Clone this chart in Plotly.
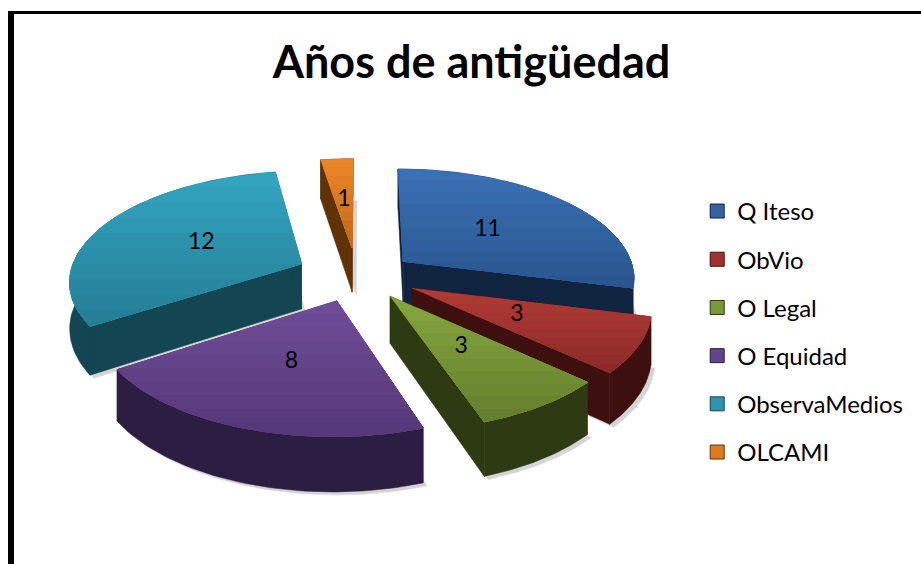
import numpy as np
import plotly.graph_objects as go

# ---- data ----
categories = ["Q Iteso", "ObVio", "O Legal", "O Equidad", "ObservaMedios", "OLCAMI"]
values = [11, 3, 3, 8, 12, 1]
title_text = "Años de antigüedad"

# ---- styling ----
top_light = ["#3A70B4", "#B03A36", "#84A63E", "#6F4C96", "#33A3BE", "#EC8526"]
top_dark = ["#2A5690", "#8C2A28", "#667F2E", "#55397A", "#257F98", "#C26B1C"]
wall = ["#10233F", "#3E0F0F", "#2E3A12", "#2C1D42", "#134553", "#5F3208"]
swatch = ["#34639F", "#A23230", "#789A38", "#61448A", "#2E93AD", "#DD7B22"]
pulls = [52, 54, 50, 54, 66, 62]          # explosion of each slice
nudge_x = [3, 4, 2, -5, 1, -3]            # small sideways shift of each slice
label_frac = [0.50, 0.48, 0.50, 0.52, 0.50, 0.50]
draw_order = [5, 0, 4, 1, 2, 3]

CX, CY, R, SQUASH, PERSP, DEPTH = 360, 276, 232, 0.47, 0.14, 46
total = sum(values)
fracs = np.array(values) / total
starts = np.concatenate([[0], np.cumsum(fracs)[:-1]]) * 2 * np.pi
ends = np.cumsum(fracs) * 2 * np.pi
mids = (starts + ends) / 2


def project(X, Y, Z=0.0):
    s = 1 / (1 + PERSP * np.asarray(Y) / R)
    return CX + np.asarray(X) * s, CY - SQUASH * np.asarray(Y) * s + Z * s


def slice_world(i):
    return nudge_x[i] + pulls[i] * np.sin(mids[i]), pulls[i] * np.cos(mids[i])


def arc(i, rad=R, n=60):
    t = np.linspace(starts[i], ends[i], n)
    ox, oy = slice_world(i)
    return ox + rad * np.sin(t), oy + rad * np.cos(t)


def hex_mix(a, b, f):
    ca = [int(a[k:k + 2], 16) for k in (1, 3, 5)]
    cb = [int(b[k:k + 2], 16) for k in (1, 3, 5)]
    return "rgb(%d,%d,%d)" % tuple(round(x + (y - x) * f) for x, y in zip(ca, cb))


def clip_below(px, py, y0):
    """Part of a polygon with screen y >= y0."""
    ox, oy = [], []
    n = len(px)
    for k in range(n):
        x1, y1, x2, y2 = px[k], py[k], px[(k + 1) % n], py[(k + 1) % n]
        if y1 >= y0:
            ox.append(x1); oy.append(y1)
        if (y1 >= y0) != (y2 >= y0):
            f = (y0 - y1) / (y2 - y1)
            ox.append(x1 + f * (x2 - x1)); oy.append(y0)
    return ox, oy


fig = go.Figure()


def poly(x, y, color, opacity=1.0):
    x, y = list(x), list(y)
    fig.add_trace(go.Scatter(x=x + x[:1], y=y + y[:1], mode="lines", fill="toself",
                             fillcolor=color, line=dict(color=color, width=0.5),
                             opacity=opacity, hoverinfo="skip", showlegend=False))


# soft shadows
for i in draw_order:
    ax, ay = arc(i)
    ox, oy = slice_world(i)
    wx = np.concatenate([[ox], ax])
    wy = np.concatenate([[oy], ay])
    sx, sy = project(wx, wy, DEPTH)
    poly(sx + 4, sy + 3, "#8a8a8a", 0.35)

# slices, back to front
for i in draw_order:
    ax, ay = arc(i)
    ox, oy = slice_world(i)
    # cut faces
    for wxe, wye in ((ax[0], ay[0]), (ax[-1], ay[-1])):
        x0, y0 = project(ox, oy)
        x1, y1 = project(wxe, wye)
        x2, y2 = project(wxe, wye, DEPTH)
        x3, y3 = project(ox, oy, DEPTH)
        poly([x0, x1, x2, x3], [y0, y1, y2, y3], wall[i])
    # outer wall
    tx, ty = project(ax, ay)
    bx, by = project(ax, ay, DEPTH)
    poly(np.concatenate([tx, bx[::-1]]), np.concatenate([ty, by[::-1]]), wall[i])
    # top face with vertical gradient
    x0, y0 = project(ox, oy)
    px = list(np.concatenate([[x0], tx]))
    py = list(np.concatenate([[y0], ty]))
    ymin, ymax = min(py), max(py)
    for b in range(10):
        yb = ymin + (ymax - ymin) * b / 10
        cx_, cy_ = clip_below(px, py, yb)
        if len(cx_) > 2:
            poly(cx_, cy_, hex_mix(top_light[i], top_dark[i], b / 9))

# value labels
lab_x, lab_y = [], []
for i in range(len(values)):
    ox, oy = slice_world(i)
    lx, ly = project(ox + label_frac[i] * R * np.sin(mids[i]),
                     oy + label_frac[i] * R * np.cos(mids[i]))
    lab_x.append(float(lx)); lab_y.append(float(ly))
fig.add_trace(go.Scatter(x=lab_x, y=lab_y, mode="text", text=[str(v) for v in values],
                         textposition="middle center",
                         textfont=dict(family="Lato", size=23, color="#000000"),
                         hoverinfo="skip", showlegend=False))

# legend entries
for i, c in enumerate(categories):
    fig.add_trace(go.Scatter(x=[None], y=[None], mode="markers", name=c, legendgroup=c,
                             marker=dict(symbol="square", size=14, color=swatch[i],
                                         line=dict(color=wall[i], width=1))))

fig.update_layout(
    width=921, height=564, margin=dict(l=0, r=0, t=0, b=0),
    paper_bgcolor="white", plot_bgcolor="white",
    title=dict(text="<b>%s</b>" % title_text, x=0.512, xanchor="center", y=0.89, yanchor="middle",
               font=dict(family="Lato", size=45, color="#000000")),
    xaxis=dict(range=[0, 921], visible=False, fixedrange=True),
    yaxis=dict(range=[564, 0], visible=False, fixedrange=True),
    legend=dict(x=0.757, y=0.665, xanchor="left", yanchor="top", tracegroupgap=14,
                font=dict(family="Lato", size=24, color="#000000"), itemwidth=30,
                bgcolor="rgba(0,0,0,0)"),
    shapes=[
        dict(type="line", xref="x", yref="y", x0=8, x1=921, y0=12.5, y1=12.5,
             line=dict(color="#000000", width=3)),
        dict(type="line", xref="x", yref="y", x0=11, x1=11, y0=11, y1=564,
             line=dict(color="#000000", width=6)),
    ],
)
fig.write_html("out.html", config={"displayModeBar": False},
               post_script="document.body.style.margin='0';document.body.style.overflow='hidden';")
